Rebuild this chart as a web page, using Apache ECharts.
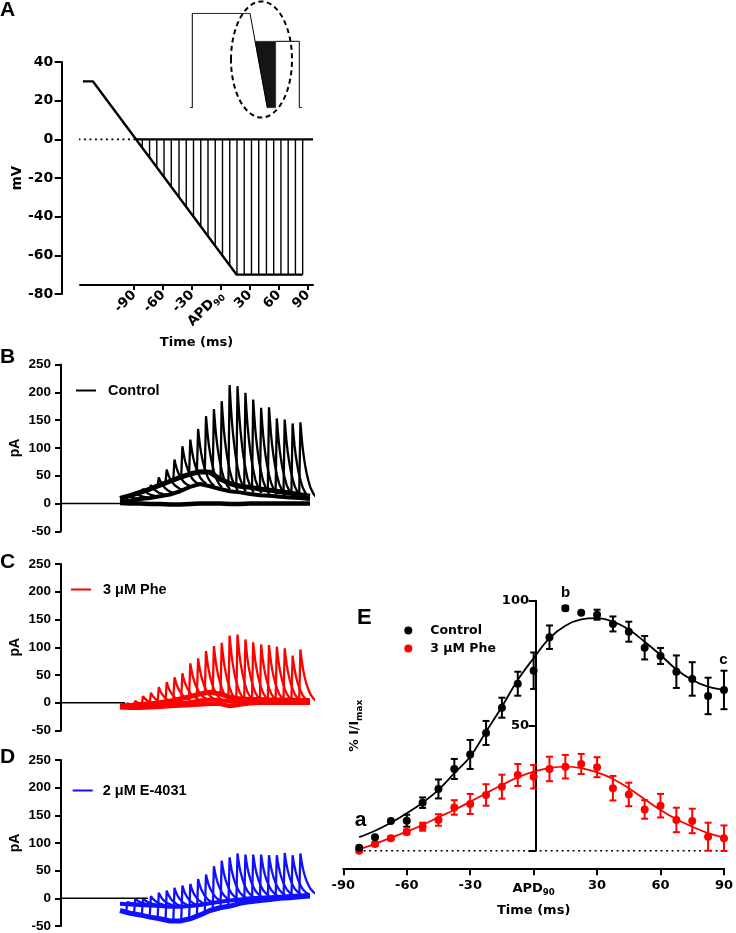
<!DOCTYPE html>
<html><head><meta charset="utf-8">
<script src="https://cdn.jsdelivr.net/npm/echarts@6/dist/echarts.min.js"></script>
<style>html,body{margin:0;padding:0;background:#fff}#c{width:736px;height:933px}</style>
</head><body><div id="c"></div>
<script>
// ---------------- Panel A : voltage protocol ----------------
const rampTime = [-143, -132.7, 16.2, 84.5];          // ms
const rampVolt = [30, 30, -70, -70];                  // mV
const holdTime = [-88, 95.2];
const holdVolt = [0, 0];
const dotTime = [-159, -88];
const dotVolt = [0, 0];
const stepTime = [-81.5,-74,-66.5,-59,-51.5,-43.5,-36,-28.5,-21,-13.5,-6,1.5,9,16.5,24,31.5,39,47,54.5,62,69.5,77,84.5];
const stepVolt = [-4.3,-9.3,-14.4,-19.4,-24.5,-29.9,-34.9,-39.9,-45,-50,-55.1,-60.1,-65.2,-70,-70,-70,-70,-70,-70,-70,-70,-70,-70];
const aTickLabels = [-90,-60,-30,0,30,60,90];
// inset schematic (arbitrary units)
const insetOutlineT = [0, 2.3, 2.3, 60, 77.3];
const insetOutlineV = [0, 0, 94.4, 94.4, 0];
const insetStepT = [85.7, 109.3, 109.3, 112];
const insetStepV = [66.4, 66.4, 0, 0];
const insetFillT = [65.1, 85.7, 85.7, 77.3];
const insetFillV = [66.4, 66.4, 0, 0];

// ---------------- Panels B-D : current traces ----------------
const envTime = [0,10,20,30,40,50,60,70,80,90,100,110,120,130,140,150,160,170,180,190];
const spikeTime = [7.3,15.2,23.0,30.9,38.8,46.7,54.5,62.4,70.3,78.1,86.0,93.9,101.7,109.6,117.5,125.4,133.2,141.1,149.0,156.8,164.7,172.6,180.4];
const decayOffset = [0,1,2,3,4,5,6,8,10,13,16];
const decayFrac = [1,0.84,0.70,0.59,0.50,0.42,0.35,0.24,0.15,0.07,0.02];

const envB  = [9,14,20,26,33,40,47,53,57,56,44,36,31,29,26,24,21,19,16,13];
const tailB = [3,5,8,10,13,16,22,30,35,31,26,22,20,17,15,14,12,11,10,8];
const botB  = [1,0,0,-1,-1,-2,-2,-1,0,0,0,-1,-1,0,0,0,0,0,0,0];
const baseB = [13,17,22,27,32,38,43,48,53,56,57,52,43,36,32,30,28,26,24,22,20,18,16];
const peakB = [14,19,26,33,47,61,79,103,115,134,157,170,184,213,211,199,187,172,173,153,151,144,146];
const restB = [8,10,12,15,18,24,30,34,34,30,26,23,21,18,16,15,14,13,12,11,10,9,8];

const envC  = [-6,-5,-3,-2,0,3,7,11,16,19,16,10,7,6,6,5,5,5,4,4];
const tailC = [-8,-7,-6,-5,-4,-3,-1,1,4,6,5,2,1,1,1,1,1,1,1,1];
const botC  = [-8,-9,-9,-8,-7,-6,-5,-4,-3,-2,-2,-6,-3,-1,0,0,0,0,0,0];
const baseC = [-5,-4,-3,-2,0,2,5,8,11,15,18,18,15,10,8,7,6,6,5,5,5,4,4];
const peakC = [-1,3,12,18,28,37,46,53,71,80,93,102,108,121,123,114,109,105,104,101,98,85,96];
const restC = [-6,-5,-4,-3,-1,1,4,6,6,5,3,2,1,1,1,1,1,1,1,1,1,1,1];

const envD  = [-22,-27,-30,-34,-37,-41,-41,-37,-30,-22,-17,-14,-9,-6,-4,-2,0,1,3,4];
const tailD = [-10,-11,-12,-13,-14,-15,-15,-14,-12,-9,-6,-4,-2,0,1,2,3,4,5,6];
const botD  = [];
const baseD = [-26,-28,-31,-34,-37,-41,-41,-40,-37,-31,-25,-20,-16,-14,-10,-7,-5,-4,-2,-1,0,2,3];
const peakD = [-7,-1,0,4,10,14,19,23,26,35,43,58,68,74,81,79,79,79,78,78,82,78,81];
const restD = [-10,-11,-12,-13,-14,-15,-15,-14,-12,-9,-6,-4,-2,0,1,2,3,4,5,5,6,6,6];

const zeroSegB = [-59, 0];
const zeroSegC = [-59, 5];
const zeroSegD = [-59, 28];

// ---------------- Panel E : % I/Imax ----------------
const eTime = [-82.5,-75,-67.5,-60,-52.5,-45,-37.5,-30,-22.5,-15,-7.5,0,7.5,15,22.5,30,37.5,45,52.5,60,67.5,75,82.5,90];
const ctrlMean = [1.2,5.4,11.9,12.0,19.2,24.7,32.7,38.5,47.1,57.2,66.8,72.0,85.4,97.0,95.2,94.4,90.7,87.6,81.2,77.9,71.6,68.7,61.9,64.3];
const ctrlSem  = [0,0,0,2.4,2.1,3.8,4,5.8,4.8,4,4.8,7.3,4.7,0.9,0,2,3,4,4.7,3.2,6.5,6.7,7.3,7.7];
const pheMean  = [0,2.7,5.0,7.5,9.6,12.3,17.3,18.7,22.3,25.6,30.3,29.6,32.7,33.6,34.7,33.4,25.0,22.5,16.5,18.0,12.3,11.9,5.6,5.0];
const pheSem   = [0,0.8,0.8,1,1.6,2.3,2.9,4,4.3,4.8,4.4,4.7,4.9,4.7,4,4,4.9,4.7,3.7,4.7,4.9,4.9,5.6,5.1];
const ctrlFit  = [5.4,8.0,11.2,15.0,19.2,24.3,31,37.6,47.6,57.6,68.3,77,85,90,92.5,93,91.6,88.5,83.6,78.3,72.5,68.3,65.6,64.3];
const pheFit   = [0.5,2.7,5.2,7.6,10.3,13.4,16.3,19.6,23,26.3,29.3,31.6,33,33.6,33,31.3,28.7,25,20.6,16.3,12.6,9.6,7,5.2];
const eZeroT = [-83, 90];
const annotText = ['a','b','c'];
const annotT = [-81.8, 15.1, 89.7];
const annotY = [12.3, 103, 76.3];
const annotSize = [21, 15, 15];

// ------------------------------------------------------------
const fW = 'DejaVu Sans';
const fN = 'Liberation Sans';
const BLK = '#000';
const RED = '#ff0000';
const BLU = '#1010ff';

const apdFmt = v => (v === 0 ? '{a|APD}{s|90}' : String(v));
const apdRich = (ff, fs) => ({
  a: {fontFamily: ff, fontWeight: 'bold', fontSize: fs, color: BLK, lineHeight: 18, verticalAlign: 'middle'},
  s: {fontFamily: ff, fontWeight: 'bold', fontSize: fs * 0.66, color: BLK, lineHeight: 18, verticalAlign: 'bottom'}
});

function zip(xs, ys) { return xs.map((x, i) => [x, ys[i]]); }

const series = [];

// Panel A
series.push({type: 'line', name: 'hold-dot', xAxisIndex: 0, yAxisIndex: 0, symbol: 'none', clip: false,
  data: zip(dotTime, dotVolt), lineStyle: {color: BLK, width: 1.6, type: [2, 3.5]}});
series.push({type: 'line', name: 'hold', xAxisIndex: 0, yAxisIndex: 0, symbol: 'none',
  data: zip(holdTime, holdVolt), lineStyle: {color: BLK, width: 2.2}});
series.push({type: 'custom', name: 'steps', xAxisIndex: 0, yAxisIndex: 0,
  data: zip(stepTime, stepVolt), encode: {x: 0, y: 1},
  renderItem: (p, api) => {
    const a = api.coord([api.value(0), 0]);
    const b = api.coord([api.value(0), api.value(1)]);
    return {type: 'line', shape: {x1: a[0], y1: a[1], x2: b[0], y2: b[1]}, style: {stroke: BLK, lineWidth: 1.4}};
  }});
series.push({type: 'line', name: 'ramp', xAxisIndex: 0, yAxisIndex: 0, symbol: 'none',
  data: zip(rampTime, rampVolt), lineStyle: {color: BLK, width: 2.4}, z: 3});

// Inset
series.push({type: 'line', name: 'inset1', xAxisIndex: 1, yAxisIndex: 1, symbol: 'none',
  data: zip(insetOutlineT, insetOutlineV), lineStyle: {color: BLK, width: 1}});
series.push({type: 'line', name: 'inset2', xAxisIndex: 1, yAxisIndex: 1, symbol: 'none',
  data: zip(insetStepT, insetStepV), lineStyle: {color: BLK, width: 1}});
series.push({type: 'custom', name: 'insetFill', xAxisIndex: 1, yAxisIndex: 1, data: [[0, 0]], encode: {x: 0, y: 1},
  renderItem: (p, api) => ({type: 'polygon', shape: {points: insetFillT.map((t, i) => api.coord([t, insetFillV[i]]))},
    style: {fill: '#151515', stroke: '#151515', lineWidth: 0.5}})});

// Traces
function tracePanel(idx, name, color, env, tail, bot, base, peak, rest, zeroSeg) {
  const common = {type: 'line', xAxisIndex: idx, yAxisIndex: idx, symbol: 'none', silent: true, name: name,
    itemStyle: {color: color}};
  if (bot.length) series.push(Object.assign({}, common, {data: zip(envTime, bot), lineStyle: {color: color, width: 4.5}, z: 2}));
  series.push(Object.assign({}, common, {data: zip(envTime, tail), lineStyle: {color: color, width: 4}, z: 2}));
  series.push(Object.assign({}, common, {data: zip(envTime, env), lineStyle: {color: color, width: 5}, z: 2}));
  spikeTime.forEach((s, i) => {
    const d = [[s - 1.2, base[i]], [s, peak[i]]];
    for (let k = 1; k < decayOffset.length; k++) d.push([s + decayOffset[k], rest[i] + (peak[i] - rest[i]) * decayFrac[k]]);
    series.push(Object.assign({}, common, {data: d, lineStyle: {color: color, width: 2.3}, z: 3}));
  });
  series.push({type: 'line', name: 'zero' + idx, xAxisIndex: idx, yAxisIndex: idx, symbol: 'none', silent: true,
    data: zeroSeg.map(t => [t, 0]), lineStyle: {color: BLK, width: 1.5}, z: 5});
}
tracePanel(2, 'Control', BLK, envB, tailB, botB, baseB, peakB, restB, zeroSegB);
tracePanel(3, '3 μM Phe', RED, envC, tailC, botC, baseC, peakC, restC, zeroSegC);
tracePanel(4, '2 μM E-4031', BLU, envD, tailD, botD, baseD, peakD, restD, zeroSegD);

// Panel E
function errRender(color) {
  return function (p, api) {
    const x = api.value(0), lo = api.value(1), hi = api.value(2);
    if (!(hi - lo > 0)) return null;
    const a = api.coord([x, hi]), b = api.coord([x, lo]);
    const w = 3.5, st = {stroke: color, lineWidth: 2};
    return {type: 'group', children: [
      {type: 'line', shape: {x1: a[0], y1: a[1], x2: b[0], y2: b[1]}, style: st},
      {type: 'line', shape: {x1: a[0] - w, y1: a[1], x2: a[0] + w, y2: a[1]}, style: st},
      {type: 'line', shape: {x1: b[0] - w, y1: b[1], x2: b[0] + w, y2: b[1]}, style: st}
    ]};
  };
}
series.push({type: 'line', name: 'eZero', xAxisIndex: 5, yAxisIndex: 5, symbol: 'none', clip: false,
  data: eZeroT.map(t => [t, 0]), lineStyle: {color: BLK, width: 1.6, type: [2, 3.5]}, z: 1});
series.push({type: 'line', name: 'pheFit', xAxisIndex: 5, yAxisIndex: 5, symbol: 'none', smooth: 0.4, clip: false,
  data: zip(eTime, pheFit), lineStyle: {color: RED, width: 1.8}, z: 2});
series.push({type: 'line', name: 'ctrlFit', xAxisIndex: 5, yAxisIndex: 5, symbol: 'none', smooth: 0.4, clip: false,
  data: zip(eTime, ctrlFit), lineStyle: {color: BLK, width: 1.8}, z: 2});
series.push({type: 'custom', name: 'pheErr', xAxisIndex: 5, yAxisIndex: 5, encode: {x: 0, y: [1, 2]}, clip: false,
  data: eTime.map((t, i) => [t, pheMean[i] - pheSem[i], pheMean[i] + pheSem[i]]), renderItem: errRender(RED), z: 3});
series.push({type: 'custom', name: 'ctrlErr', xAxisIndex: 5, yAxisIndex: 5, encode: {x: 0, y: [1, 2]}, clip: false,
  data: eTime.map((t, i) => [t, ctrlMean[i] - ctrlSem[i], ctrlMean[i] + ctrlSem[i]]), renderItem: errRender(BLK), z: 3});
series.push({type: 'scatter', name: '3 μM Phe', xAxisIndex: 5, yAxisIndex: 5, symbol: 'circle', symbolSize: 8, clip: false,
  data: zip(eTime, pheMean), itemStyle: {color: RED, opacity: 1}, z: 4});
series.push({type: 'scatter', name: 'Control', xAxisIndex: 5, yAxisIndex: 5, symbol: 'circle', symbolSize: 8, clip: false,
  data: zip(eTime, ctrlMean), itemStyle: {color: BLK, opacity: 1}, z: 4});
series.push({type: 'custom', name: 'annot', xAxisIndex: 5, yAxisIndex: 5, encode: {x: 0, y: 1}, clip: false, silent: true,
  data: annotT.map((t, i) => [t, annotY[i], i]),
  renderItem: (p, api) => {
    const c = api.coord([api.value(0), api.value(1)]);
    const i = api.value(2);
    return {type: 'text', x: c[0], y: c[1], style: {text: annotText[i], fill: '#000', align: 'center',
      verticalAlign: 'middle', font: 'bold ' + annotSize[i] + 'px "Liberation Sans"'}};
  }, z: 5});

const yLabelN = {color: BLK, fontFamily: fN, fontWeight: 'bold', fontSize: 13.5, margin: 10};
const traceY = idx => ({gridIndex: idx, type: 'value', min: -50, max: 250, interval: 50,
  axisLine: {show: true, onZero: false, lineStyle: {color: BLK, width: 2}},
  axisTick: {show: true, length: 6, lineStyle: {color: BLK, width: 2}},
  axisLabel: yLabelN, splitLine: {show: false},
  name: 'pA', nameLocation: 'middle', nameGap: 39,
  nameTextStyle: {color: BLK, fontFamily: fN, fontWeight: 'bold', fontSize: 14}});
const hiddenX = idx => ({gridIndex: idx, type: 'value', min: -59, max: 193, show: false});

const legendText = (ff, fs, pad) => ({color: BLK, fontFamily: ff, fontWeight: 'bold', fontSize: fs, padding: [0, 0, 0, pad]});

const option = {
  animation: false,
  backgroundColor: '#fff',
  grid: [
    {left: 80, top: 62, width: 233, height: 232},
    {left: 190, top: 13.3, width: 112, height: 94.4},
    {left: 61, top: 364.5, width: 252, height: 166.8},
    {left: 61, top: 564, width: 252, height: 166.5},
    {left: 61, top: 760, width: 252, height: 166.7},
    {left: 343.3, top: 600.7, width: 385, height: 250}
  ],
  xAxis: [
    {gridIndex: 0, type: 'value', min: -146, max: 95.2, position: 'bottom', offset: -9,
      axisLine: {show: true, onZero: false, lineStyle: {color: BLK, width: 2}},
      axisTick: {show: true, length: 5, customValues: aTickLabels, lineStyle: {color: BLK, width: 2}},
      axisLabel: {customValues: aTickLabels, rotate: 45, margin: 8, formatter: apdFmt, color: BLK,
        fontFamily: fW, fontWeight: 'bold', fontSize: 13.5, rich: apdRich(fW, 13.5)},
      splitLine: {show: false},
      name: 'Time (ms)', nameLocation: 'middle', nameGap: 51,
      nameTextStyle: {color: BLK, fontFamily: fW, fontWeight: 'bold', fontSize: 13}},
    {gridIndex: 1, type: 'value', min: 0, max: 112, show: false},
    hiddenX(2), hiddenX(3), hiddenX(4),
    {gridIndex: 5, type: 'value', min: -90, max: 90, interval: 30, position: 'bottom', offset: 17.6,
      axisLine: {show: true, onZero: false, lineStyle: {color: BLK, width: 2}},
      axisTick: {show: true, length: 7, lineStyle: {color: BLK, width: 2}},
      axisLabel: {margin: 11, formatter: apdFmt, color: BLK, fontFamily: fW, fontWeight: 'bold', fontSize: 13,
        rich: apdRich(fW, 13)},
      splitLine: {show: false},
      name: 'Time (ms)', nameLocation: 'middle', nameGap: 36,
      nameTextStyle: {color: BLK, fontFamily: fW, fontWeight: 'bold', fontSize: 13}}
  ],
  yAxis: [
    {gridIndex: 0, type: 'value', min: -80, max: 40, interval: 20, offset: 18.3,
      axisLine: {show: true, onZero: false, lineStyle: {color: BLK, width: 2}},
      axisTick: {show: true, length: 7, lineStyle: {color: BLK, width: 2}},
      axisLabel: {color: BLK, fontFamily: fW, fontWeight: 'bold', fontSize: 14, margin: 8.5},
      splitLine: {show: false},
      name: 'mV', nameLocation: 'middle', nameGap: 33,
      nameTextStyle: {color: BLK, fontFamily: fW, fontWeight: 'bold', fontSize: 13.5}},
    {gridIndex: 1, type: 'value', min: 0, max: 94.4, show: false},
    traceY(2), traceY(3), traceY(4),
    {gridIndex: 5, type: 'value', min: 0, max: 100, interval: 50, offset: -192.7,
      axisLine: {show: true, onZero: false, lineStyle: {color: BLK, width: 2}},
      axisTick: {show: true, length: 7.5, lineStyle: {color: BLK, width: 2}},
      axisLabel: {color: BLK, fontFamily: fW, fontWeight: 'bold', fontSize: 13, margin: 7,
        formatter: v => (v === 0 ? '' : String(v))},
      splitLine: {show: false},
      name: '{n|% I/I}{s|max}', nameLocation: 'middle', nameGap: 172,
      nameTextStyle: {color: BLK, rich: {
        n: {fontFamily: fW, fontWeight: 'bold', fontSize: 12.5, color: BLK, lineHeight: 18, verticalAlign: 'middle'},
        s: {fontFamily: fW, fontWeight: 'bold', fontSize: 9, color: BLK, lineHeight: 18, verticalAlign: 'bottom'}}}}
  ],
  legend: [
    {left: 76, top: 383, padding: 0, icon: 'rect', itemWidth: 20, itemHeight: 2, selectedMode: false,
      data: ['Control'], textStyle: legendText(fN, 14.5, 7)},
    {left: 71, top: 582, padding: 0, icon: 'rect', itemWidth: 20, itemHeight: 2, selectedMode: false,
      data: ['3 μM Phe'], textStyle: legendText(fN, 14.5, 7)},
    {left: 72.7, top: 783, padding: 0, icon: 'rect', itemWidth: 20, itemHeight: 2, selectedMode: false,
      data: ['2 μM E-4031'], textStyle: legendText(fN, 14.5, 5)},
    {left: 404.3, top: 624, padding: 0, orient: 'vertical', icon: 'circle', itemWidth: 8, itemHeight: 8, itemGap: 5,
      selectedMode: false, data: ['Control', '3 μM Phe'], textStyle: legendText(fW, 12.5, 13)}
  ],
  graphic: [
    {type: 'ellipse', shape: {cx: 261.5, cy: 59.5, rx: 30.5, ry: 58},
      style: {fill: null, stroke: BLK, lineWidth: 2, lineDash: [5, 3.5]}, z: 10},
    {type: 'text', left: 0, top: 0, style: {text: 'A', fontFamily: fN, fontWeight: 'bold', fontSize: 21, fill: BLK}},
    {type: 'text', left: 0, top: 347, style: {text: 'B', fontFamily: fN, fontWeight: 'bold', fontSize: 21, fill: BLK}},
    {type: 'text', left: 0, top: 552, style: {text: 'C', fontFamily: fN, fontWeight: 'bold', fontSize: 21, fill: BLK}},
    {type: 'text', left: 0, top: 747, style: {text: 'D', fontFamily: fN, fontWeight: 'bold', fontSize: 21, fill: BLK}},
    {type: 'text', left: 357, top: 607, style: {text: 'E', fontFamily: fN, fontWeight: 'bold', fontSize: 22, fill: BLK}}
  ],
  series: series
};

const chart = echarts.init(document.getElementById('c'), null, {renderer: 'canvas', width: 736, height: 933});
chart.setOption(option);
</script>
</body></html>
